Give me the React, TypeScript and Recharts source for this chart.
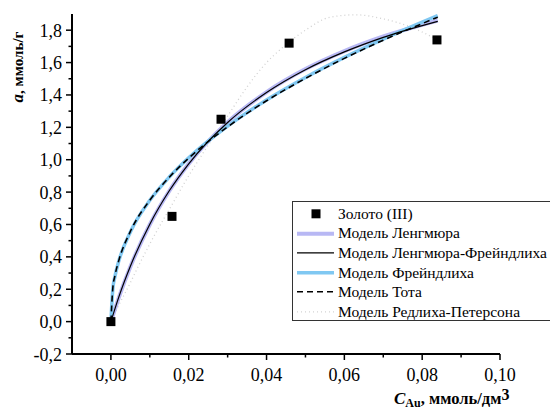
import React from "react";
import { ComposedChart, Line, Scatter, XAxis, YAxis, Label } from "recharts";

// experimental points, gold (III)
const goldC = [0, 0.0157, 0.0283, 0.0458, 0.0838];
const goldA = [0, 0.65, 1.25, 1.72, 1.74];

// Langmuir & Langmuir-Freundlich models
const langmuirC = [0, 0.002, 0.005, 0.01, 0.015, 0.02, 0.03, 0.04, 0.05, 0.06, 0.07, 0.084];
const langmuirA = [0, 0.147, 0.339, 0.6, 0.807, 0.975, 1.232, 1.418, 1.56, 1.671, 1.761, 1.86];
const langFreundA = [0, 0.15, 0.342, 0.602, 0.808, 0.975, 1.23, 1.415, 1.556, 1.666, 1.756, 1.855];

// Freundlich & Toth models
const freundC = [0, 0.0005, 0.001, 0.002, 0.005, 0.01, 0.015, 0.02, 0.03, 0.04, 0.05, 0.06, 0.07, 0.084];
const freundA = [0, 0.204, 0.275, 0.372, 0.554, 0.749, 0.893, 1.012, 1.207, 1.369, 1.508, 1.632, 1.745, 1.89];
const tothA = [0, 0.21, 0.28, 0.375, 0.557, 0.75, 0.892, 1.01, 1.203, 1.364, 1.502, 1.626, 1.738, 1.88];

// Redlich-Peterson model
const rpC = [0, 0.002, 0.005, 0.0066, 0.01, 0.016, 0.0194, 0.0242, 0.03, 0.035, 0.04, 0.0435, 0.05, 0.0563, 0.063, 0.07, 0.077, 0.084];
const rpA = [0, 0.1, 0.24, 0.32, 0.48, 0.735, 0.877, 1.06, 1.27, 1.45, 1.6, 1.68, 1.8, 1.88, 1.895, 1.87, 1.82, 1.74];

const xTicks = [0, 0.01, 0.02, 0.03, 0.04, 0.05, 0.06, 0.07, 0.08, 0.09, 0.1];
const yTicks = [-0.2, -0.1, 0, 0.1, 0.2, 0.3, 0.4, 0.5, 0.6, 0.7, 0.8, 0.9, 1.0, 1.1, 1.2, 1.3, 1.4, 1.5, 1.6, 1.7, 1.8];

const zip = (c: number[], a: number[]) => c.map((v, i) => ({ c: v, a: a[i] }));

const FONT = '"Liberation Serif", "Times New Roman", serif';

const isMajor = (v: number, step: number) => Math.abs(v / step - Math.round(v / step)) < 1e-6;

const XTick = (props: any) => {
  const { x, y, payload } = props;
  const v = payload.value as number;
  const major = isMajor(v, 0.02);
  return (
    <g>
      <line x1={x} x2={x} y1={y} y2={y + (major ? 6 : 3.5)} stroke="#000" strokeWidth={1.5} />
      {major && (
        <text x={x} y={y + 27} textAnchor="middle" fontSize={18} fontFamily={FONT} fill="#000">
          {v.toFixed(2).replace(".", ",")}
        </text>
      )}
    </g>
  );
};

const YTick = (props: any) => {
  const { x, y, payload } = props;
  const v = payload.value as number;
  const major = isMajor(v, 0.2);
  return (
    <g>
      <line x1={x} x2={x - (major ? 6 : 3.5)} y1={y} y2={y} stroke="#000" strokeWidth={1.5} />
      {major && (
        <text x={x - 10} y={y + 6.5} textAnchor="end" fontSize={18} fontFamily={FONT} fill="#000">
          {v.toFixed(1).replace(".", ",")}
        </text>
      )}
    </g>
  );
};

const Square = (props: any) => {
  const { cx, cy } = props;
  return <rect x={cx - 4.5} y={cy - 4.5} width={9} height={9} fill="#000" />;
};

const legendRows = [
  { name: "Золото (III)", kind: "square" },
  { name: "Модель Ленгмюра", kind: "line", stroke: "#b8b8f4", width: 4 },
  { name: "Модель Ленгмюра-Фрейндлиха", kind: "line", stroke: "#000", width: 1.2 },
  { name: "Модель Фрейндлиха", kind: "line", stroke: "#80c8f2", width: 3.5 },
  { name: "Модель Тота", kind: "line", stroke: "#000", width: 1.6, dash: "6 4" },
  { name: "Модель Редлиха-Петерсона", kind: "line", stroke: "#d4d4d4", width: 1.2, dash: "1 3" },
];

export default function App() {
  return (
    <div
      style={{
        position: "fixed",
        left: 0,
        top: 0,
        width: 550,
        height: 415,
        overflow: "hidden",
        background: "#fff",
        fontFamily: FONT,
      }}
    >
      <ComposedChart width={550} height={415} margin={{ top: 14, right: 50, bottom: 0, left: 0 }}>
        <XAxis
          type="number"
          dataKey="c"
          domain={[-0.01, 0.1]}
          ticks={xTicks}
          interval={0}
          allowDataOverflow
          height={61}
          tickSize={0}
          tickMargin={0}
          tickLine={false}
          axisLine={{ stroke: "#000", strokeWidth: 2 }}
          tick={<XTick />}
        >
          <Label
            content={() => (
              <text x={394} y={404} fontFamily={FONT} fontWeight="bold" fontSize={16.5} fill="#000">
                <tspan fontStyle="italic" fontSize={17}>C</tspan>
                <tspan fontSize={12} dy={3}>Au</tspan>
                <tspan dy={-3}>, ммоль/дм</tspan>
                <tspan fontSize={16} dy={-4}>3</tspan>
              </text>
            )}
          />
        </XAxis>
        <YAxis
          type="number"
          dataKey="a"
          domain={[-0.2, 1.9]}
          ticks={yTicks}
          interval={0}
          allowDataOverflow
          width={72}
          tickSize={0}
          tickMargin={0}
          tickLine={false}
          axisLine={{ stroke: "#000", strokeWidth: 2 }}
          tick={<YTick />}
        >
          <Label
            content={() => (
              <text
                transform="translate(23,67) rotate(-90)"
                textAnchor="middle"
                fontFamily={FONT}
                fontWeight="bold"
                fontSize={15}
                fill="#000"
              >
                <tspan fontStyle="italic" fontSize={17}>a</tspan>
                <tspan>, ммоль/г</tspan>
              </text>
            )}
          />
        </YAxis>
        <Line
          data={zip(rpC, rpA)}
          dataKey="a"
          type="monotone"
          stroke="#d0d0d0"
          strokeWidth={1.3}
          strokeDasharray="1 3"
          dot={false}
          isAnimationActive={false}
        />
        <Line
          data={zip(langmuirC, langmuirA)}
          dataKey="a"
          type="monotone"
          stroke="#b8b8f4"
          strokeWidth={4}
          dot={false}
          isAnimationActive={false}
        />
        <Line
          data={zip(freundC, freundA)}
          dataKey="a"
          type="monotone"
          stroke="#80c8f2"
          strokeWidth={3.5}
          dot={false}
          isAnimationActive={false}
        />
        <Line
          data={zip(langmuirC, langFreundA)}
          dataKey="a"
          type="monotone"
          stroke="#000"
          strokeWidth={1.2}
          dot={false}
          isAnimationActive={false}
        />
        <Line
          data={zip(freundC, tothA)}
          dataKey="a"
          type="monotone"
          stroke="#000"
          strokeWidth={1.6}
          strokeDasharray="6 4"
          dot={false}
          isAnimationActive={false}
        />
        <Scatter data={zip(goldC, goldA)} dataKey="a" shape={<Square />} isAnimationActive={false} />
      </ComposedChart>

      <div
        style={{
          position: "absolute",
          left: 292,
          top: 201,
          width: 270,
          height: 120,
          boxSizing: "border-box",
          border: "1px solid #333",
          paddingTop: 2,
          background: "#fff",
        }}
      >
        {legendRows.map((r) => (
          <div key={r.name} style={{ height: 19.6, display: "flex", alignItems: "center", fontSize: 15.5, color: "#000", whiteSpace: "nowrap" }}>
            <svg width={45} height={19.6} style={{ flex: "none" }}>
              {r.kind === "square" ? (
                <rect x={18.5} y={5.3} width={9} height={9} fill="#000" />
              ) : (
                <line
                  x1={4}
                  x2={41}
                  y1={9.8}
                  y2={9.8}
                  stroke={r.stroke}
                  strokeWidth={r.width}
                  strokeDasharray={r.dash}
                />
              )}
            </svg>
            <span>{r.name}</span>
          </div>
        ))}
      </div>
    </div>
  );
}
